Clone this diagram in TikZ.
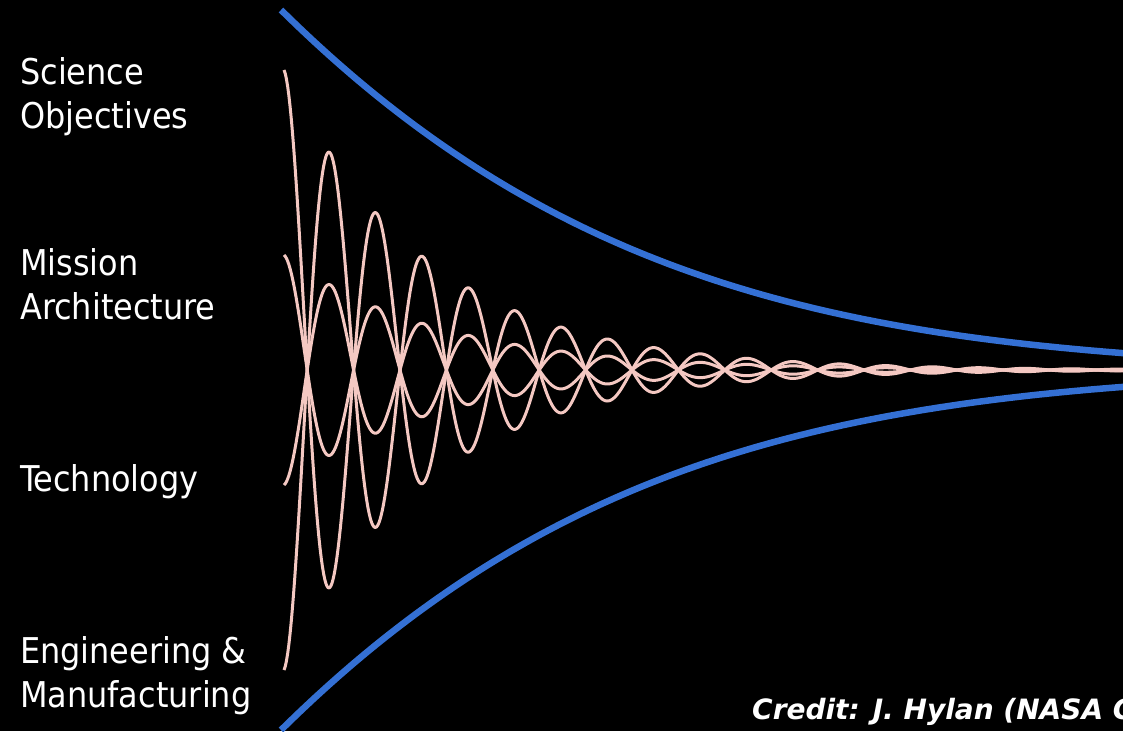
\documentclass[tikz,border=0pt]{standalone}
\usepackage{fontspec}
\setmainfont{DejaVu Sans}
\newfontfamily\phasefont{DejaVu Sans Condensed}
\newfontfamily\creditfont{DejaVu Sans}
\definecolor{wavepink}{RGB}{244,200,194}
\definecolor{envblue}{RGB}{52,112,212}

\begin{document}
\begin{tikzpicture}[x=1pt,y=-1pt,
  phase/.style={font=\phasefont\fontsize{35.5}{44}\selectfont,text=white,align=left,anchor=base west,inner sep=0pt},
  credit/.style={font=\creditfont\bfseries\itshape\fontsize{28}{34}\selectfont,text=white,anchor=base west,inner sep=0pt},
  envelope/.style={envblue,line width=6.5pt},
  wave/.style={wavepink,line width=3pt,line join=round}]
\fill[black] (0,0) rectangle (1123,731);
\useasboundingbox (0,0) rectangle (1123,731);

% design phases (anchored on the last line)
\node[phase] (sci) at (20,128) {Science\\Objectives};
\node[phase] (mis) at (20,319) {Mission\\Architecture};
\node[phase] (tech) at (20,491) {Technology};
\node[phase] (eng) at (20,707) {Engineering \&\\Manufacturing};

% converging envelope
\draw[envelope] plot[domain=281:1123,samples=160,smooth]
  (\x,{370-360*exp(-0.002741*(\x-281)-1.051*((\x-281)/1000)^2)});
\draw[envelope] plot[domain=281:1123,samples=160,smooth]
  (\x,{370+360*exp(-0.002741*(\x-281)-1.051*((\x-281)/1000)^2)});

% damped iterations: amplitude/decay
\foreach \amp/\k in {300/0.007,115/0.0065,-115/0.0065,-300/0.007}
  \draw[wave] plot[domain=284:1123,samples=700]
    (\x,{370-\amp*exp(-\k*(\x-284))*cos(3.8793*(\x-284))});

\node[credit] (cred) at (752,719) {Credit: J. Hylan (NASA G};
\end{tikzpicture}
\end{document}
